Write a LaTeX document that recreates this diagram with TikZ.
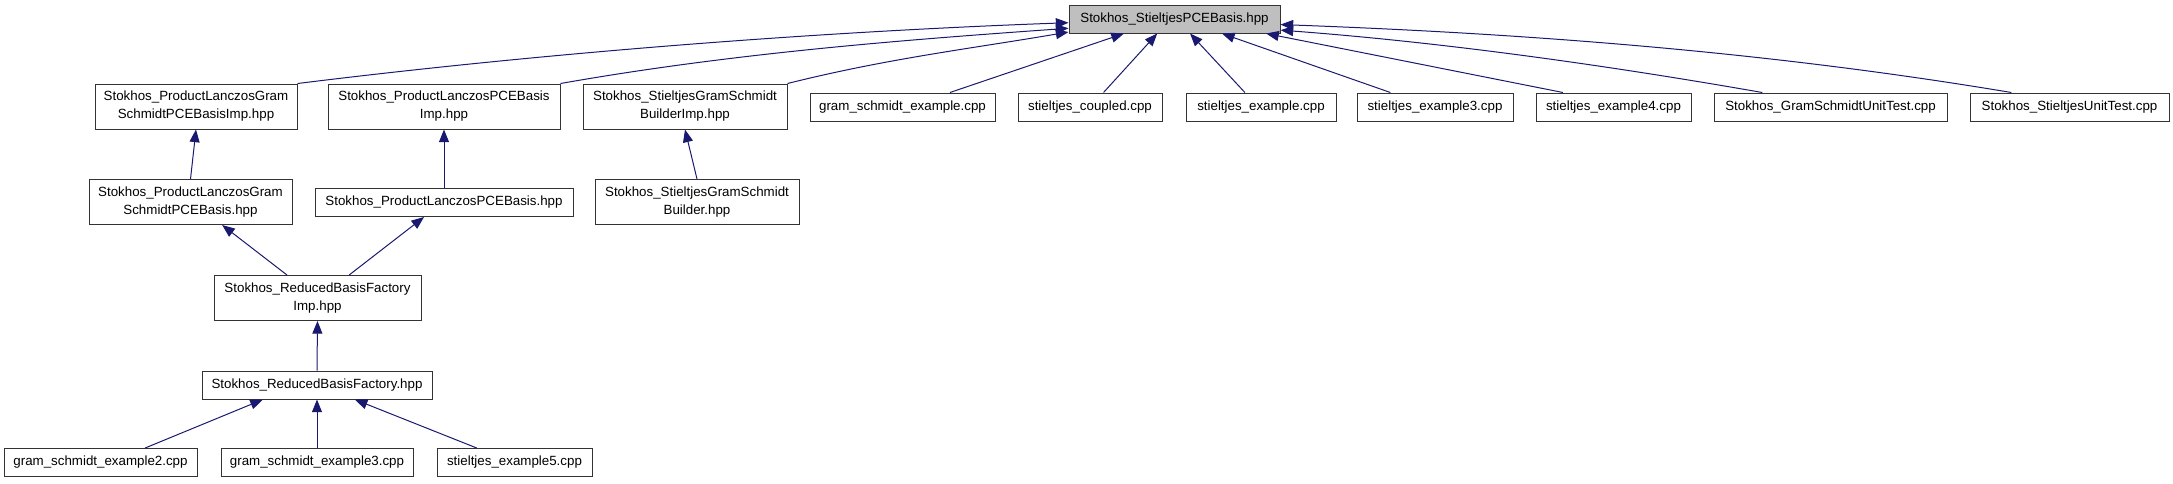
\documentclass[tikz,border=0pt]{standalone}
\usepackage{fontspec}
\setmainfont{Liberation Sans}
\usetikzlibrary{arrows.meta, positioning, calc}
\definecolor{navyedge}{HTML}{191970}
\tikzset{
  filenode/.style={
    rectangle, draw=black!80, line width=0.75pt, fill=white, inner sep=0pt,
    minimum height=28*0.75pt, align=center, font=\fontsize{10}{13.5}\selectfont
  },
  twoline/.style={filenode, minimum height=45*0.75pt},
  rootfile/.style={filenode, fill=black!25},
  boxw/.style={minimum width=#1*0.75pt},
  link/.style={-{Triangle[length=9.5pt, width=7.5pt]}, draw=navyedge, line width=0.75pt}
}

\begin{document}
\begin{tikzpicture}[x=0.75pt, y=-0.75pt]
    \useasboundingbox (0,0) rectangle (2173,483);
    \node[rootfile, boxw=211] (root) at (1174.5,19) {Stokhos\_StieltjesPCEBasis.hpp};
    \node[twoline, boxw=202] (lgsImp) at (196,106.5) {Stokhos\_ProductLanczosGram\\SchmidtPCEBasisImp.hpp};
    \node[twoline, boxw=232] (lpImp) at (444,106.5) {Stokhos\_ProductLanczosPCEBasis\\Imp.hpp};
    \node[twoline, boxw=204] (sgsImp) at (685,106.5) {Stokhos\_StieltjesGramSchmidt\\BuilderImp.hpp};
    \node[filenode, boxw=185] (gsEx) at (902.5,107) {gram\_schmidt\_example.cpp};
    \node[filenode, boxw=144] (stCp) at (1090,107) {stieltjes\_coupled.cpp};
    \node[filenode, boxw=150] (stEx) at (1261,107) {stieltjes\_example.cpp};
    \node[filenode, boxw=156] (stEx3) at (1435,107) {stieltjes\_example3.cpp};
    \node[filenode, boxw=155] (stEx4) at (1613.5,107) {stieltjes\_example4.cpp};
    \node[filenode, boxw=233] (gsUT) at (1830.5,107) {Stokhos\_GramSchmidtUnitTest.cpp};
    \node[filenode, boxw=199] (stUT) at (2069.5,107) {Stokhos\_StieltjesUnitTest.cpp};
    \node[twoline, boxw=203] (lgs) at (190.5,202) {Stokhos\_ProductLanczosGram\\SchmidtPCEBasis.hpp};
    \node[filenode, boxw=258] (lp) at (444,202.5) {Stokhos\_ProductLanczosPCEBasis.hpp};
    \node[twoline, boxw=204] (sgs) at (697,202) {Stokhos\_StieltjesGramSchmidt\\Builder.hpp};
    \node[twoline, boxw=207] (rbfImp) at (317.5,298) {Stokhos\_ReducedBasisFactory\\Imp.hpp};
    \node[filenode, boxw=230] (rbf) at (317,385) {Stokhos\_ReducedBasisFactory.hpp};
    \node[filenode, boxw=193] (gsEx2) at (100.5,462.5) {gram\_schmidt\_example2.cpp};
    \node[filenode, boxw=192] (gsEx3) at (317,462.5) {gram\_schmidt\_example3.cpp};
    \node[filenode, boxw=155] (stEx5) at (514.5,462.5) {stieltjes\_example5.cpp};
    \draw[link] (lgsImp.north east) .. controls +(250,-31) and +(-250,9) .. (root.182.7);
    \draw[link] (lpImp.north east) .. controls +(170,-30) and +(-170,12) .. (root.185.4);
    \draw[link] (sgsImp.north east) .. controls +(100,-25) and +(-100,17) .. (root.187);
    \draw[link] (gsEx.17.1) -- (root.196.4);
    \draw[link] (stCp.47.1) -- (root.220.3);
    \draw[link] (stEx.138.8) -- (root.317.9);
    \draw[link] (stEx3.162.7) -- (root.343.9);
    \draw[link] (stEx4.164.5) -- (root.351.7);
    \draw[link] (gsUT.168.8) .. controls +(-160,-28) and +(160,12) .. (root.354.6);
    \draw[link] (stUT.166.3) .. controls +(-245,-41) and +(245,9) .. (root.357.3);
    \draw[link] (lgs.north) -- (lgsImp.south);
    \draw[link] (lp.north) -- (lpImp.south);
    \draw[link] (sgs.north) -- (sgsImp.south);
    \draw[link] (rbfImp.143.6) -- (lgs.324.5);
    \draw[link] (rbfImp.36.4) -- (lp.216.4);
    \draw[link] (rbf.north) -- (rbfImp.south);
    \draw[link] (gsEx2.18.6) -- (rbf.195.9);
    \draw[link] (gsEx3.north) -- (rbf.south);
    \draw[link] (stEx5.159.5) -- (rbf.339.8);
\end{tikzpicture}
\end{document}
